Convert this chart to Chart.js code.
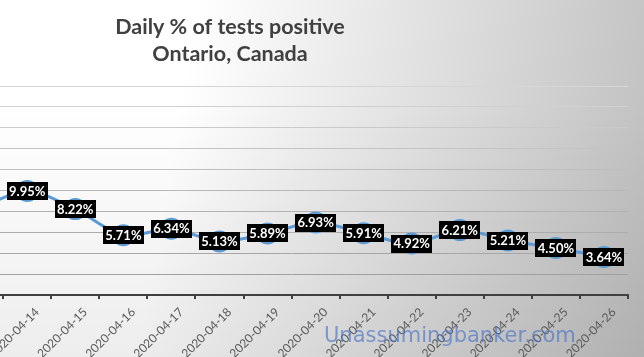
<!DOCTYPE html>
<html><head><meta charset="utf-8">
<script src="https://cdn.jsdelivr.net/npm/chart.js@4.4.1/dist/chart.umd.min.js"></script>
<style>
html,body{margin:0;padding:0;width:644px;height:357px;overflow:hidden;}
body{background:linear-gradient(to bottom,rgba(0,0,0,0) 0%,rgba(0,0,0,0) 30%,rgba(0,0,0,0.07) 100%),linear-gradient(100deg,#ffffff 0%,#ffffff 28%,#bdbdbd 100%);position:relative;}
#c{position:absolute;left:-179px;top:0;width:818px;height:357px;}
</style></head><body>
<canvas id="c" width="818" height="357"></canvas>
<script>
const categories = ['2020-04-13','2020-04-14','2020-04-15','2020-04-16','2020-04-17','2020-04-18','2020-04-19','2020-04-20','2020-04-21','2020-04-22','2020-04-23','2020-04-24','2020-04-25','2020-04-26'];
const positiveRate = [8.3, 9.95, 8.22, 5.71, 6.34, 5.13, 5.89, 6.93, 5.91, 4.92, 6.21, 5.21, 4.50, 3.64];
const titleLines = ['Daily % of tests positive', 'Ontario, Canada'];
const watermarkText = 'Unassumingbanker.com';
const yMin = 0, yMax = 20, yStep = 2;

function gridColor(v) {
  const t = (v - yMin) / (yMax - yMin);
  const c = Math.round(0x9a + (0xd6 - 0x9a) * t);
  return 'rgb(' + c + ',' + c + ',' + c + ')';
}

const dataLabels = {
  id: 'dataLabels',
  afterDatasetsDraw(chart) {
    const ctx = chart.ctx;
    const meta = chart.getDatasetMeta(0);
    ctx.save();
    ctx.font = 'bold 13px Lato';
    ctx.textAlign = 'center';
    ctx.textBaseline = 'middle';
    meta.data.forEach((pt, i) => {
      const txt = positiveRate[i].toFixed(2) + '%';
      const w = ctx.measureText(txt).width + 5;
      const h = 18;
      ctx.fillStyle = '#000000';
      ctx.fillRect(Math.round(pt.x - w / 2), Math.round(pt.y - h / 2), Math.round(w), h);
      ctx.fillStyle = '#ffffff';
      ctx.fillText(txt, pt.x, pt.y + 0.5);
    });
    ctx.restore();
  }
};

const watermark = {
  id: 'watermark',
  afterDraw(chart) {
    const ctx = chart.ctx;
    ctx.save();
    ctx.font = '21px "DejaVu Sans"';
    ctx.fillStyle = 'rgba(70,115,200,0.65)';
    ctx.textAlign = 'left';
    ctx.textBaseline = 'alphabetic';
    ctx.fillText(watermarkText, 503, 342);
    ctx.restore();
  }
};

new Chart(document.getElementById('c'), {
  type: 'line',
  data: {
    labels: categories,
    datasets: [{
      data: positiveRate,
      borderColor: '#5B9BD5',
      backgroundColor: '#5B9BD5',
      borderWidth: 3,
      tension: 0.3,
      pointRadius: 11,
      pointBackgroundColor: '#5B9BD5',
      pointBorderColor: '#5B9BD5',
      pointBorderWidth: 0,
      fill: false
    }]
  },
  options: {
    responsive: false,
    devicePixelRatio: 1,
    animation: false,
    layout: { padding: 0 },
    plugins: {
      legend: { display: false },
      tooltip: { enabled: false },
      title: {
        display: true,
        text: titleLines,
        color: '#404040',
        font: { family: 'Lato', size: 21.5, weight: 'bold', lineHeight: '27px' },
        padding: { top: 13.6, bottom: 18.4 }
      }
    },
    scales: {
      x: {
        offset: true,
        grid: { offset: true, drawOnChartArea: false, drawTicks: true, tickLength: 4, color: '#404040', lineWidth: 2 },
        border: { display: true, color: '#404040', width: 2 },
        ticks: { autoSkip: false, minRotation: 45, maxRotation: 45, color: '#595959', font: { family: 'Lato', size: 12 }, padding: 6, labelOffset: 10 },
        afterFit(scale) { scale.paddingLeft = 0; scale.paddingRight = 0; scale.height = 62; }
      },
      y: {
        min: yMin, max: yMax,
        ticks: { display: false, stepSize: yStep },
        grid: { drawTicks: false, color: (c) => gridColor(c.tick ? c.tick.value : 0), lineWidth: 1 },
        border: { display: false },
        afterFit(scale) { scale.width = 134.15; scale.paddingTop = 0; scale.paddingBottom = 0; }
      }
    }
  },
  plugins: [dataLabels, watermark]
});
</script>
</body></html>
